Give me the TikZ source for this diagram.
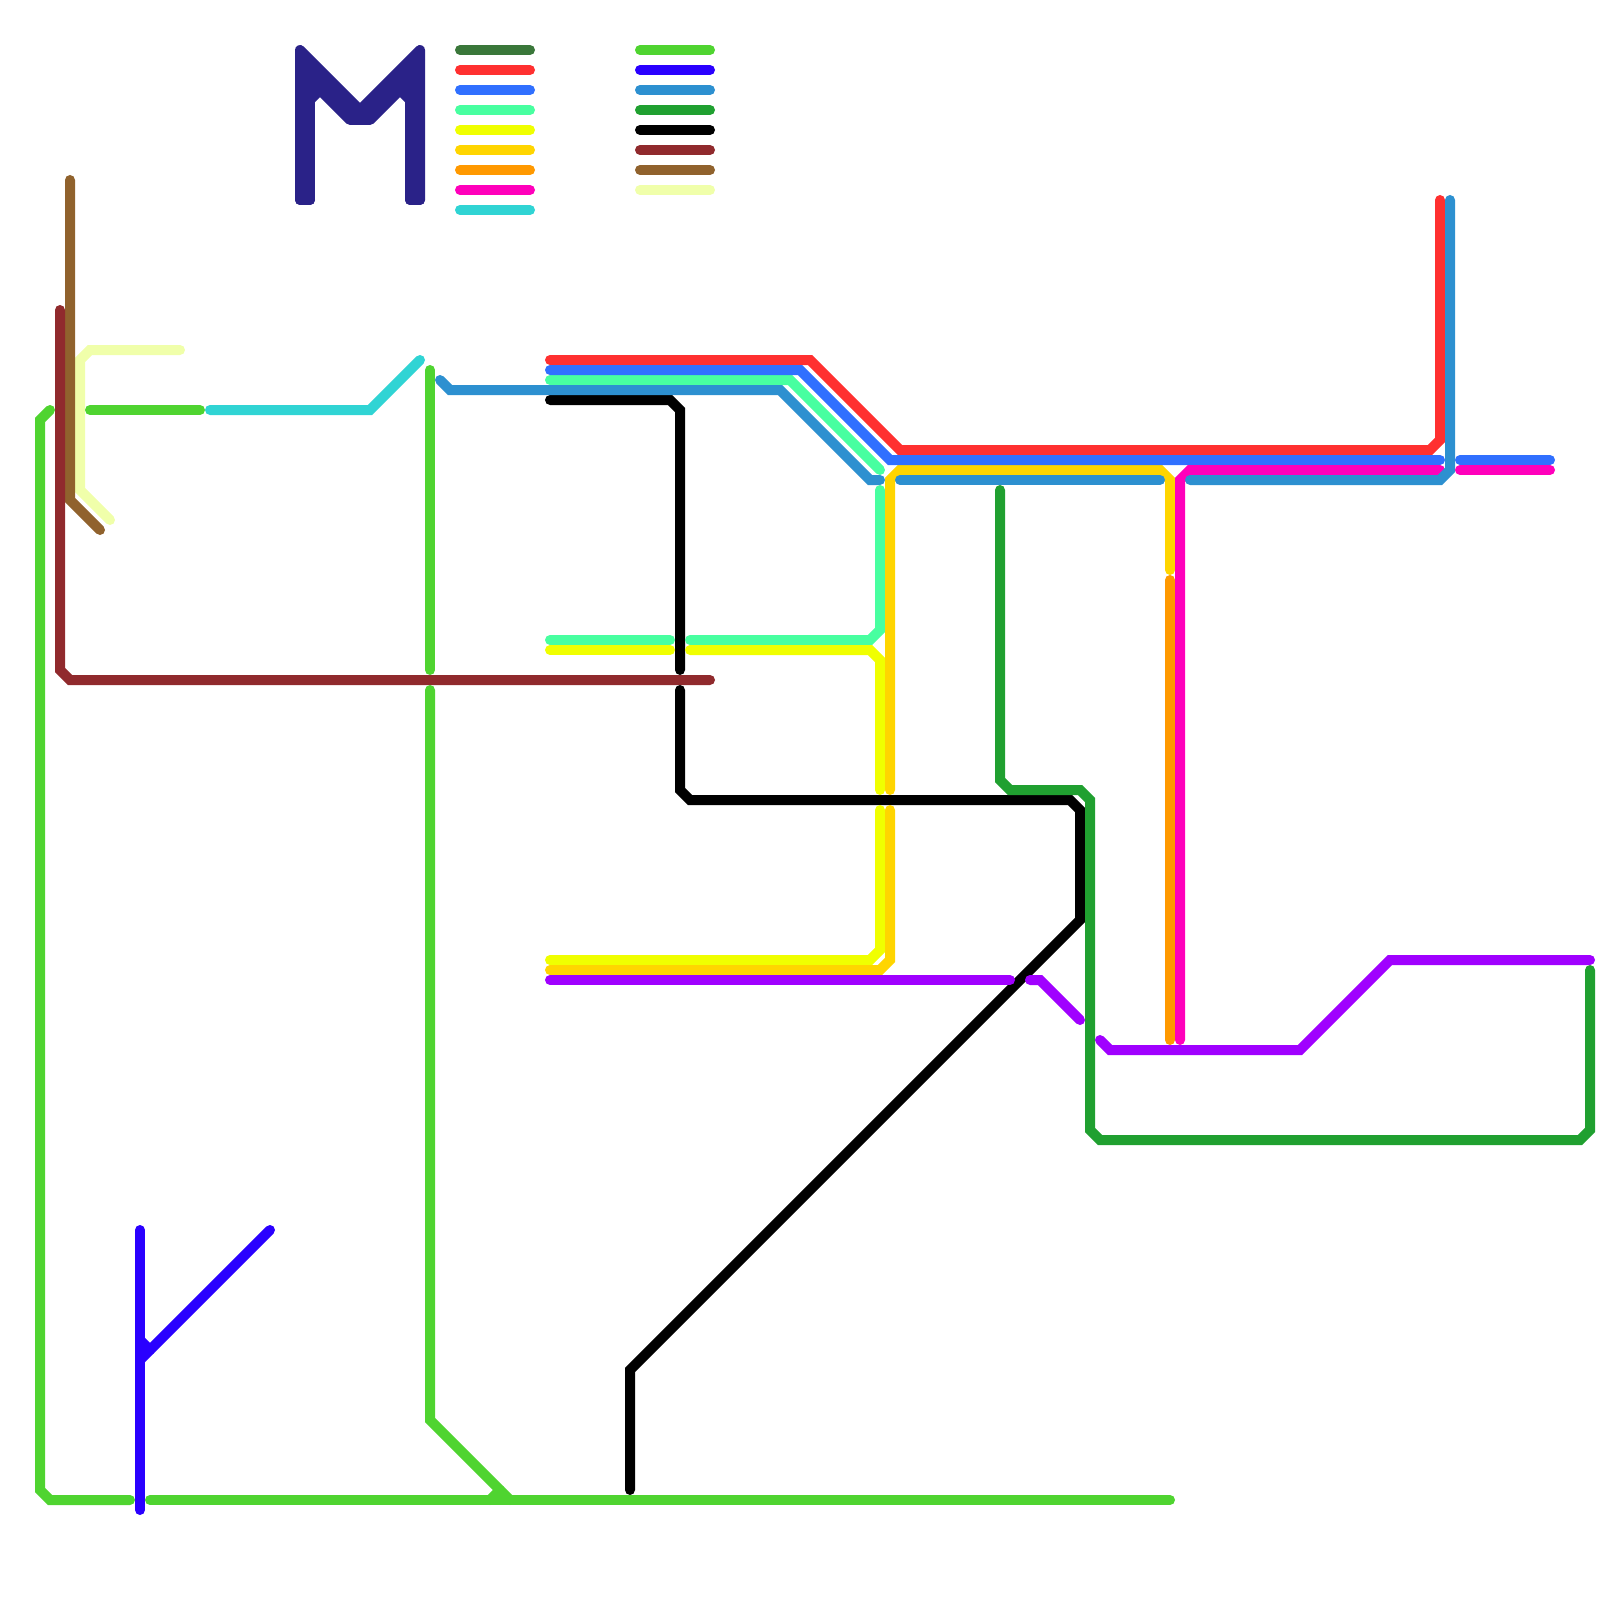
\documentclass[tikz,border=0pt]{standalone}
\usepackage{tikz}

\definecolor{mlogo}{HTML}{2A2288}
\definecolor{moss}{HTML}{3A773A}
\definecolor{redl}{HTML}{FF3030}
\definecolor{bluel}{HTML}{3070FF}
\definecolor{mint}{HTML}{48FFA0}
\definecolor{yell}{HTML}{F0FF00}
\definecolor{gold}{HTML}{FFD500}
\definecolor{oran}{HTML}{FF9900}
\definecolor{mage}{HTML}{FF00BB}
\definecolor{teal}{HTML}{30D4D4}
\definecolor{lime}{HTML}{4FD430}
\definecolor{deep}{HTML}{2A00FF}
\definecolor{steel}{HTML}{2D90D0}
\definecolor{grn}{HTML}{20A030}
\definecolor{maroon}{HTML}{902A2D}
\definecolor{brown}{HTML}{90622D}
\definecolor{pale}{HTML}{F0FFAA}
\definecolor{purp}{HTML}{A000FF}

\begin{document}
\begin{tikzpicture}[
    x=1mm, y=-1mm, line width=1mm, line cap=round,
    logo/.style={draw=mlogo, line join=round},
    moss line/.style={draw=moss},
    red line/.style={draw=redl},
    blue line/.style={draw=bluel},
    mint line/.style={draw=mint},
    yellow line/.style={draw=yell},
    gold line/.style={draw=gold},
    orange line/.style={draw=oran},
    magenta line/.style={draw=mage},
    teal line/.style={draw=teal},
    lime line/.style={draw=lime},
    deep line/.style={draw=deep},
    steel line/.style={draw=steel},
    green line/.style={draw=grn},
    black line/.style={draw=black},
    maroon line/.style={draw=maroon},
    brown line/.style={draw=brown},
    pale line/.style={draw=pale},
    purple line/.style={draw=purp}
]
    \useasboundingbox (0,0) rectangle (160,160);

    % logo
    \path[logo] (30,20) -- (30,5) -- (36,11);
    \path[logo] (31,20) -- (31,7);
    \path[logo] (31,8) -- (35,12) -- (37,12) -- (41,8);
    \path[logo] (41,20) -- (41,7);
    \path[logo] (42,20) -- (42,5) -- (36,11);
    \path[logo] (30,6) -- (36,12) -- (42,6);
    \path[logo] (30,20) -- (31,20);
    \path[logo] (41,20) -- (42,20);
    \path[logo] (31,10) -- (32,9);
    \path[logo] (41,10) -- (40,9);

    % legend
    \foreach \col [count=\i from 0] in {moss,red,blue,mint,yellow,gold,orange,magenta,teal}
        \path[\col\space line] (46,5+2*\i) -- (53,5+2*\i);
    \foreach \col [count=\i from 0] in {lime,deep,steel,green,black,maroon,brown,pale}
        \path[\col\space line] (64,5+2*\i) -- (71,5+2*\i);

    % left side
    \path[pale line] (18,35) -- (9,35) -- (8,36) -- (8,49) -- (11,52);
    \path[brown line] (7,18) -- (7,50) -- (10,53);
    \path[maroon line] (6,31) -- (6,67) -- (7,68) -- (71,68);
    \path[lime line] (5,41) -- (4,42) -- (4,149) -- (5,150) -- (13,150);
    \path[lime line] (9,41) -- (20,41);
    \path[teal line] (21,41) -- (37,41) -- (42,36);
    \path[lime line] (43,37) -- (43,67);
    \path[lime line] (43,69) -- (43,142) -- (51,150);
    \path[lime line] (50,149) -- (49,150);
    \path[black line] (63,149) -- (63,137) -- (108,92) -- (108,81) -- (107,80) -- (69,80) -- (68,79) -- (68,69);
    \path[lime line] (15,150) -- (117,150);
    \path[deep line] (14,123) -- (14,151);
    \path[deep line] (27,123) -- (14,136);
    \path[deep line] (14,134) -- (15,135);

    % centre
    \path[black line] (55,40) -- (67,40) -- (68,41) -- (68,67);
    \path[mint line] (55,38) -- (79,38) -- (88,47);
    \path[steel line] (44,38) -- (45,39) -- (78,39) -- (87,48) -- (88,48);
    \path[mint line] (55,64) -- (67,64);
    \path[mint line] (69,64) -- (87,64) -- (88,63) -- (88,49);
    \path[yellow line] (55,65) -- (67,65);
    \path[yellow line] (69,65) -- (87,65) -- (88,66) -- (88,79);
    \path[yellow line] (88,81) -- (88,95) -- (87,96) -- (55,96);
    \path[gold line] (89,81) -- (89,96) -- (88,97) -- (55,97);
    \path[gold line] (89,79) -- (89,48) -- (90,47) -- (116,47) -- (117,48) -- (117,57);
    \path[steel line] (90,48) -- (116,48);
    \path[red line] (55,36) -- (81,36) -- (90,45) -- (143,45) -- (144,44) -- (144,20);
    \path[blue line] (55,37) -- (80,37) -- (89,46) -- (144,46);

    % right side
    \path[orange line] (117,58) -- (117,104);
    \path[magenta line] (118,104) -- (118,48) -- (119,47) -- (144,47);
    \path[steel line] (145,20) -- (145,47) -- (144,48) -- (119,48);
    \path[blue line] (146,46) -- (155,46);
    \path[magenta line] (146,47) -- (155,47);
    \path[green line] (100,49) -- (100,78) -- (101,79) -- (108,79) -- (109,80) -- (109,113) -- (110,114) -- (158,114) -- (159,113) -- (159,97);
    \path[purple line] (55,98) -- (101,98);
    \path[purple line] (103,98) -- (104,98) -- (108,102);
    \path[purple line] (110,104) -- (111,105) -- (130,105) -- (139,96) -- (159,96);
\end{tikzpicture}
\end{document}
